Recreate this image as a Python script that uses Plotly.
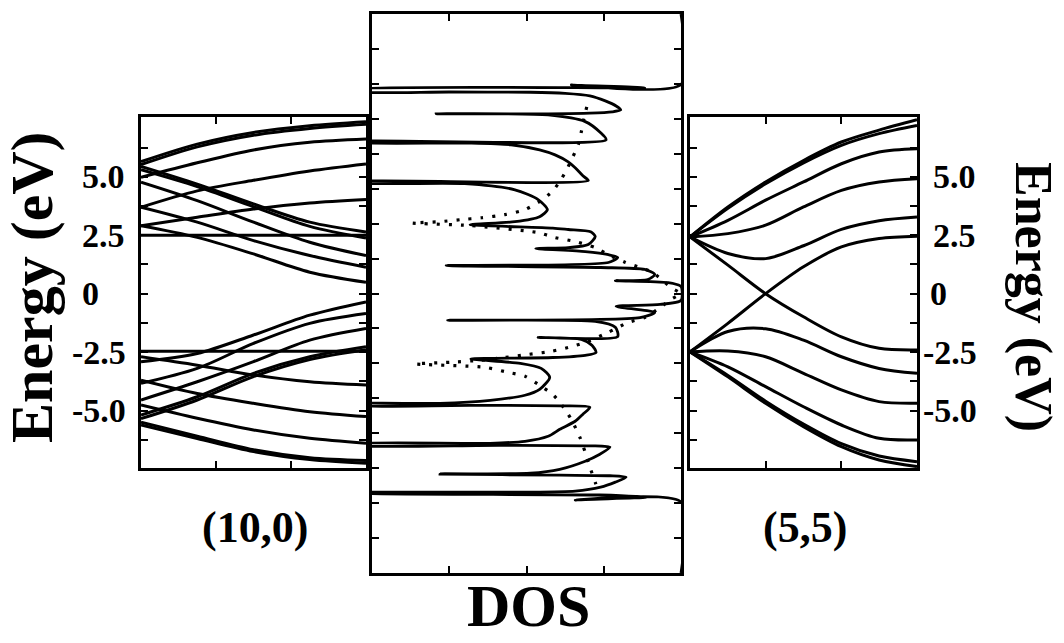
import plotly.graph_objects as go

# ---------------- (10,0) zigzag tube: band energies (eV) vs reduced k ----------------
k_10_0 = [0.0, 0.25, 0.5, 0.75, 1.0]

bands_10_0_conduction = [
    [5.65, 6.40, 6.90, 7.19, 7.36],
    [5.52, 6.28, 6.78, 7.07, 7.25],
    [4.98, 5.60, 6.15, 6.48, 6.62],
    [3.70, 4.40, 4.85, 5.25, 5.55],
    [2.91, 3.27, 3.62, 3.88, 4.03],
    [2.50, 2.50, 2.50, 2.50, 2.50],
    [5.45, 4.69, 3.84, 3.06, 2.64],
    [5.30, 4.58, 3.72, 2.88, 2.38],
    [4.77, 3.98, 3.06, 2.20, 1.63],
    [3.70, 3.06, 2.27, 1.63, 1.13],
    [2.91, 2.41, 1.70, 0.92, 0.49],
]

bands_10_0_valence = [
    [-2.91, -2.56, -1.77, -0.92, -0.35],
    [-3.84, -3.20, -2.13, -1.27, -0.85],
    [-4.55, -3.77, -2.91, -1.99, -1.49],
    [-5.19, -4.41, -3.41, -2.70, -2.27],
    [-5.35, -4.55, -3.55, -2.82, -2.40],
    [-2.46, -2.46, -2.46, -2.46, -2.46],
    [-2.70, -3.06, -3.48, -3.77, -3.91],
    [-3.70, -4.27, -4.69, -5.05, -5.26],
    [-4.76, -5.33, -5.83, -6.19, -6.40],
    [-5.50, -6.10, -6.68, -7.02, -7.14],
    [-5.62, -6.20, -6.76, -7.10, -7.26],
]

# ---------------- (5,5) armchair tube ----------------
k_5_5 = [0.0, 0.167, 0.333, 0.5, 0.667, 0.833, 1.0]

bands_5_5_conduction = [
    [2.43, 3.71, 4.78, 5.70, 6.49, 7.00, 7.44],
    [2.43, 3.65, 4.70, 5.60, 6.35, 6.85, 7.20],
    [2.43, 3.14, 4.00, 4.78, 5.56, 6.06, 6.20],
    [2.43, 2.57, 2.93, 3.71, 4.42, 4.78, 4.92],
    [2.43, 1.72, 1.50, 2.05, 2.75, 3.12, 3.28],
    [-2.49, -1.27, 0.00, 1.15, 2.00, 2.36, 2.46],
]

bands_5_5_valence = [
    [2.43, 1.22, 0.00, -0.99, -1.85, -2.34, -2.41],
    [-2.49, -1.62, -1.50, -1.99, -2.70, -3.20, -3.41],
    [-2.49, -2.45, -2.70, -3.41, -4.12, -4.62, -4.69],
    [-2.49, -3.13, -3.98, -4.84, -5.62, -6.19, -6.26],
    [-2.49, -3.50, -4.60, -5.58, -6.42, -6.95, -7.19],
    [-2.49, -3.56, -4.69, -5.69, -6.55, -7.12, -7.40],
]

# ---------------- density of states of the (10,0) tube (solid) ----------------
dos_tube_energy = [
    10.0, 7.48, 7.46, 7.36, 7.29, 7.23, 7.21, 7.20, 7.16, 7.07, 6.89, 6.71, 6.57,
    6.50, 6.45, 6.43, 6.43, 6.39, 6.15, 5.75, 5.50, 5.44, 5.41, 5.38, 5.32, 5.14,
    4.96, 4.71, 4.50, 4.21, 4.04, 4.00, 3.96, 3.93, 3.71, 3.36, 3.00, 2.75, 2.57,
    2.46, 2.34, 2.29, 2.21, 2.04, 1.75, 1.64, 1.61, 1.50, 1.39, 1.29, 1.11, 1.00,
    0.93, 0.86, 0.68, 0.50, 0.46, 0.39, 0.25, -0.25, -0.39, -0.46, -0.68, -0.86,
    -0.96, -1.00, -1.21, -1.54, -1.57, -1.64, -1.86, -2.11, -2.21, -2.29, -2.34,
    -2.50, -2.68, -3.00, -3.43, -3.64, -3.82, -3.93, -3.96, -4.00, -4.00, -4.02,
    -4.07, -4.32, -4.57, -4.86, -5.11, -5.29, -5.36, -5.39, -5.43, -5.43, -5.45,
    -5.50, -5.75, -6.00, -6.29, -6.43, -6.46, -6.50, -6.52, -6.57, -6.75, -6.93,
    -7.07, -7.11, -7.13, -7.14, -7.21, -7.29, -7.39, -7.46, -10.0,
]
dos_tube_value = [
    0.00, 0.00, 1.42, 0.47, 4.30, 4.30, 2.99, 1.95, 1.50, 1.18, 0.98, 0.84, 0.78,
    0.89, 1.18, 1.72, 3.17, 1.72, 1.24, 1.04, 0.97, 4.30, 4.30, 2.73, 2.20, 1.83,
    1.63, 1.46, 1.37, 1.27, 1.20, 4.30, 4.30, 2.80, 2.15, 1.85, 1.73, 1.83, 2.15,
    2.73, 1.66, 1.46, 1.17, 1.11, 1.20, 1.46, 1.88, 1.24, 0.94, 0.82, 0.94, 3.04,
    1.04, 0.47, 0.34, 0.43, 0.85, 0.17, 0.00, 0.00, 0.27, 0.84, 0.34, 0.53,
    3.02, 1.11, 0.85, 0.82, 1.85, 1.29, 1.15, 1.10, 1.24, 1.66, 2.72,
    2.08, 1.81, 1.70, 1.83, 2.02, 2.47, 3.12, 4.30, 4.30, 2.73, 1.57,
    1.18, 1.27, 1.37, 1.57, 1.72, 2.02, 2.47, 4.30, 4.30, 2.34, 1.18,
    0.92, 1.05, 1.24, 1.57, 1.95, 3.12, 1.57, 0.92, 0.71, 0.85, 1.04,
    1.37, 2.08, 4.30, 4.30, 1.05, 0.45, 1.37, 0.00, 0.00,
]

# ---------------- density of states of graphene (dotted) ----------------
dos_graphene_energy = [
    6.68, 6.21, 5.79, 5.32, 4.89, 4.43, 4.00, 3.64, 3.29, 3.00, 2.82, 2.71, 2.64,
    2.57, 2.52, 2.43, 2.18, 2.00, 1.86, 1.64, 1.39, 1.11, 0.93, 0.79, 0.50, 0.21,
    0.00, -0.21, -0.50, -0.86, -1.04, -1.39, -1.75, -1.93, -2.07, -2.18, -2.29,
    -2.39, -2.46, -2.52, -2.64, -2.82, -2.96, -3.32, -3.61, -3.89, -4.32, -4.61,
    -5.14, -5.68, -6.21, -6.75, -7.11,
]
dos_graphene_value = [
    1.22, 1.26, 1.29, 1.33, 1.40, 1.48, 1.57, 1.67, 1.83, 2.02, 2.28, 2.58, 2.86,
    3.12, 3.48, 2.73, 1.85, 1.63, 1.37, 1.11, 0.94, 0.72, 0.53, 0.39, 0.25, 0.13,
    0.01, 0.13, 0.27, 0.47, 0.69, 0.94, 1.24, 1.46, 1.68, 1.98, 2.28,
    2.60, 2.99, 3.44, 2.54, 2.24, 2.02, 1.81, 1.66, 1.57, 1.46, 1.40,
    1.31, 1.24, 1.18, 1.11, 1.07,
]

# ---------------- axis annotations ----------------
energy_ticks = [-6.25, -5.0, -3.75, -2.5, -1.25, 0.0, 1.25, 2.5, 3.75, 5.0, 6.25]
energy_ticks_dos = [-8.75, -7.5, -6.25, -5.0, -3.75, -2.5, -1.25, 0.0,
                    1.25, 2.5, 3.75, 5.0, 6.25, 7.5, 8.75]
energy_labels = ["5.0", "2.5", "0", "-2.5", "-5.0"]
energy_label_values = [5.0, 2.5, 0.0, -2.5, -5.0]
dos_ticks = [1, 2, 3]
k_ticks = [0.333, 0.667]

W, H = 1064, 643
SERIF = "Liberation Serif, Times New Roman, serif"
BLACK = "#000000"


def xdom(left, right):
    return [left / W, right / W]


def ydom(top, bottom):
    return [1 - bottom / H, 1 - top / H]


fig = go.Figure()

band_line = dict(color=BLACK, width=3, shape="spline", smoothing=0.9)
for band in bands_10_0_conduction + bands_10_0_valence:
    fig.add_trace(go.Scatter(x=k_10_0, y=band, mode="lines", line=band_line,
                             xaxis="x", yaxis="y", hoverinfo="skip"))
for band in bands_5_5_conduction + bands_5_5_valence:
    fig.add_trace(go.Scatter(x=k_5_5, y=band, mode="lines", line=band_line,
                             xaxis="x3", yaxis="y3", hoverinfo="skip"))

fig.add_trace(go.Scatter(x=dos_graphene_value, y=dos_graphene_energy, mode="lines",
                         line=dict(color=BLACK, width=3.2, dash="3px,9px",
                                   shape="spline", smoothing=0.6),
                         xaxis="x2", yaxis="y2", hoverinfo="skip"))
fig.add_trace(go.Scatter(x=dos_tube_value, y=dos_tube_energy, mode="lines",
                         line=dict(color=BLACK, width=2.8, shape="spline", smoothing=0.7),
                         xaxis="x2", yaxis="y2", hoverinfo="skip"))

frame = dict(showline=True, linecolor=BLACK, linewidth=3, mirror="allticks",
             ticks="inside", ticklen=7, tickwidth=2, tickcolor=BLACK,
             showgrid=False, zeroline=False, showticklabels=False, fixedrange=True)

E_RANGE = [-7.46, 7.56]
fig.update_layout(
    width=W, height=H,
    margin=dict(l=0, r=0, t=0, b=0),
    paper_bgcolor="white", plot_bgcolor="white",
    showlegend=False,
    xaxis=dict(frame, domain=xdom(141, 366), range=[0, 1], tickvals=k_ticks, anchor="y"),
    yaxis=dict(frame, domain=ydom(117, 468), range=E_RANGE, tickvals=energy_ticks, anchor="x"),
    xaxis2=dict(frame, domain=xdom(372, 681), range=[4, 0], tickvals=dos_ticks, anchor="y2"),
    yaxis2=dict(frame, domain=ydom(14, 573), range=[-10, 10], tickvals=energy_ticks_dos, anchor="x2"),
    xaxis3=dict(frame, domain=xdom(690, 917), range=[0, 1], tickvals=k_ticks, anchor="y3"),
    yaxis3=dict(frame, domain=ydom(117, 468), range=E_RANGE, tickvals=energy_ticks, anchor="x3"),
)

ann = []
left_label_x = [103, 103, 90, 99, 99]
right_label_x = [954, 954, 938, 950, 950]
for txt, val, lx, rx in zip(energy_labels, energy_label_values, left_label_x, right_label_x):
    ann.append(dict(text=f"<b>{txt}</b>", x=lx / W, xref="paper", y=val, yref="y",
                    xanchor="center", yanchor="middle", showarrow=False,
                    font=dict(family=SERIF, size=34, color=BLACK)))
    ann.append(dict(text=f"<b>{txt}</b>", x=rx / W, xref="paper", y=val, yref="y3",
                    xanchor="center", yanchor="middle", showarrow=False,
                    font=dict(family=SERIF, size=34, color=BLACK)))

ann.append(dict(text="<b>Energy (eV)</b>", x=32 / W, y=1 - 287 / H, xref="paper", yref="paper",
                textangle=-90, showarrow=False, xanchor="center", yanchor="middle",
                font=dict(family=SERIF, size=60, color=BLACK)))
ann.append(dict(text="<b>Energy (eV)</b>", x=1033 / W, y=1 - 297 / H, xref="paper", yref="paper",
                textangle=90, showarrow=False, xanchor="center", yanchor="middle",
                font=dict(family=SERIF, size=52, color=BLACK)))
ann.append(dict(text="<b>(10,0)</b>", x=255 / W, y=1 - 527 / H, xref="paper", yref="paper",
                showarrow=False, xanchor="center", yanchor="middle",
                font=dict(family=SERIF, size=44, color=BLACK)))
ann.append(dict(text="<b>(5,5)</b>", x=805 / W, y=1 - 527 / H, xref="paper", yref="paper",
                showarrow=False, xanchor="center", yanchor="middle",
                font=dict(family=SERIF, size=44, color=BLACK)))
ann.append(dict(text="<b>DOS</b>", x=528 / W, y=1 - 606 / H, xref="paper", yref="paper",
                showarrow=False, xanchor="center", yanchor="middle",
                font=dict(family=SERIF, size=60, color=BLACK)))
fig.update_layout(annotations=ann)

fig.write_html("out.html")
